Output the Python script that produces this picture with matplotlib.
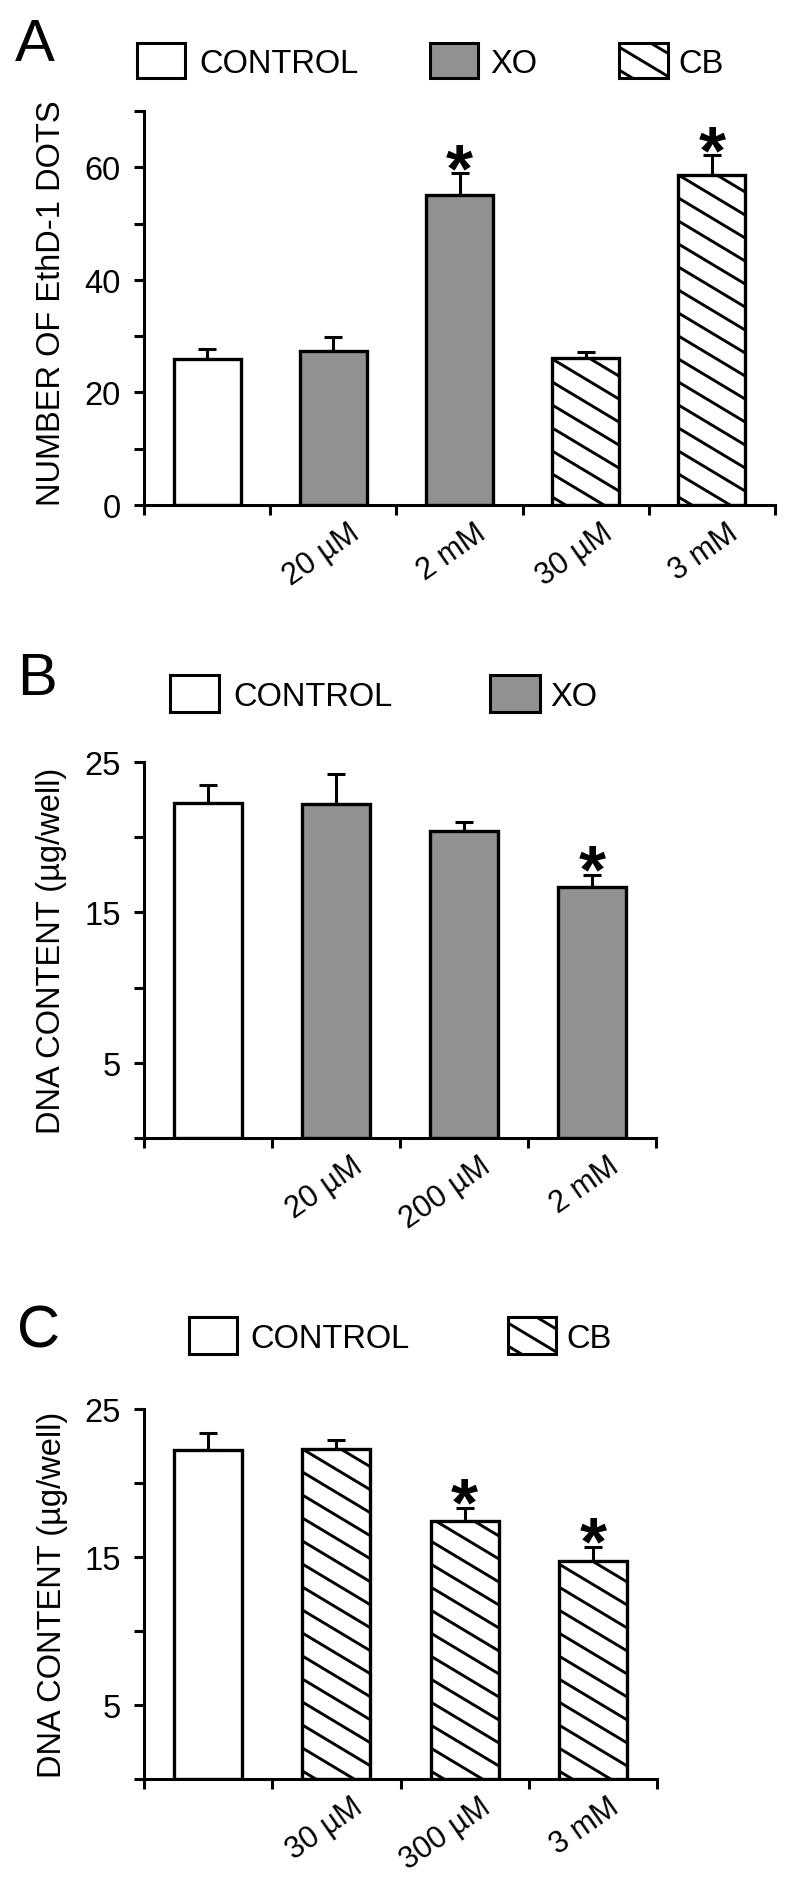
import matplotlib
matplotlib.use("Agg")
import matplotlib.pyplot as plt
import numpy as np
from matplotlib.patches import Rectangle
from matplotlib.lines import Line2D
from matplotlib.transforms import IdentityTransform, ScaledTranslation

plt.rcParams['font.family'] = ['Liberation Sans', 'DejaVu Sans']

W, H = 800, 1883

# panel A: EthD-1 dots
a_labels = ['', '20 µM', '2 mM', '30 µM', '3 mM']
a_groups = ['CONTROL', 'XO', 'XO', 'CB', 'CB']
a_means = [26.0, 27.3, 55.1, 26.2, 58.7]
a_sem = [1.8, 2.5, 3.8, 1.0, 3.4]
a_star = [False, False, True, False, True]
a_yticks = [0, 10, 20, 30, 40, 50, 60, 70]
a_yticklabels = ['0', '', '20', '', '40', '', '60', '']

# panel B: DNA content with XO
b_labels = ['', '20 µM', '200 µM', '2 mM']
b_groups = ['CONTROL', 'XO', 'XO', 'XO']
b_means = [22.3, 22.2, 20.4, 16.7]
b_sem = [1.2, 2.0, 0.6, 0.8]
b_star = [False, False, False, True]

# panel C: DNA content with CB
c_labels = ['', '30 µM', '300 µM', '3 mM']
c_groups = ['CONTROL', 'CB', 'CB', 'CB']
c_means = [22.2, 22.3, 17.4, 14.7]
c_sem = [1.2, 0.6, 0.9, 1.0]
c_star = [False, False, True, True]

dna_yticks = [0, 5, 10, 15, 20, 25]
dna_yticklabels = ['', '5', '', '15', '', '25']

fill = {'CONTROL': 'white', 'XO': '#919191', 'CB': 'white'}
hatched = {'CONTROL': False, 'XO': False, 'CB': True}

FS = 23.5
LW = 2.2

fig = plt.figure(figsize=(W / 100, H / 100), dpi=100)
to_hatch = []


def add_panel(box, means, sem, groups, labels, stars, yticks, yticklabels, ylabel, label_xy):
    left, top, right, bottom = box
    ax = fig.add_axes([left / W, 1 - bottom / H, (right - left) / W, (bottom - top) / H])
    n = len(means)
    x = np.arange(n) + 0.5
    ax.set_xlim(0, n)
    ax.set_ylim(0, yticks[-1])
    bars = ax.bar(x, means, width=0.53, color=[fill[g] for g in groups],
                  edgecolor='black', linewidth=2.4, zorder=3)
    ax.errorbar(x, means, yerr=[np.zeros(n), sem], fmt='none', ecolor='black',
                elinewidth=LW, capsize=6.8, capthick=LW, zorder=2)
    for i in range(n):
        if hatched[groups[i]]:
            to_hatch.append(bars[i])
        if stars[i]:
            ax.annotate('*', xy=(x[i], means[i] + sem[i]), xytext=(0, -12),
                        textcoords='offset points', ha='center', va='baseline',
                        fontsize=50, fontweight='bold', annotation_clip=False)

    for s in ['top', 'right']:
        ax.spines[s].set_visible(False)
    for s in ['left', 'bottom']:
        ax.spines[s].set_linewidth(LW)

    ax.set_yticks(yticks, yticklabels)
    ax.tick_params(axis='y', which='major', length=7.2, width=LW, labelsize=FS, pad=9.5)
    ax.set_xticks(np.arange(n + 1), minor=True)
    ax.tick_params(axis='x', which='minor', length=7.2, width=LW)
    ax.set_xticks(x, labels)
    ax.tick_params(axis='x', which='major', length=0, pad=9, labelsize=22)
    for lab in ax.get_xticklabels():
        lab.set_rotation(35)
        lab.set_ha('right')
        lab.set_transform(lab.get_transform() + ScaledTranslation(0.32, 0, fig.dpi_scale_trans))

    ax.set_ylabel(ylabel, fontsize=FS, va='center')
    ax.yaxis.set_label_coords((label_xy[0] - left) / (right - left),
                              (bottom - label_xy[1]) / (bottom - top))
    return ax


def add_legend(y0, y1, items):
    for x0, x1, name, tx in items:
        r = Rectangle((x0, H - y1), x1 - x0, y1 - y0, transform=IdentityTransform(),
                      facecolor=fill[name], edgecolor='black', linewidth=LW)
        fig.add_artist(r)
        if hatched[name]:
            to_hatch.append(r)
        fig.text(tx / W, 1 - ((y0 + y1) / 2 + 11.7) / H, name, fontsize=FS, va='baseline')


def add_hatch(patch, spacing=23, slope=0.6):
    bb = patch.get_window_extent()
    x0, y0, x1, y1 = bb.x0, bb.y0, bb.x1, bb.y1
    for c in np.arange(y0 + slope * x0 + 8, y1 + slope * x1 + spacing, spacing):
        ln = Line2D([x0, x1], [c - slope * x0, c - slope * x1], transform=IdentityTransform(),
                    color='black', linewidth=2.1, zorder=4)
        ln.set_clip_path(patch)
        fig.add_artist(ln)


add_panel((144, 112, 775, 506), a_means, a_sem, a_groups, a_labels, a_star,
          a_yticks, a_yticklabels, 'NUMBER OF EthD-1 DOTS', (52, 303))
add_panel((144, 763, 656, 1139), b_means, b_sem, b_groups, b_labels, b_star,
          dna_yticks, dna_yticklabels, 'DNA CONTENT (µg/well)', (52, 951))
add_panel((144, 1410, 657, 1780), c_means, c_sem, c_groups, c_labels, c_star,
          dna_yticks, dna_yticklabels, 'DNA CONTENT (µg/well)', (53, 1595))

add_legend(44, 79, [(137, 185, 'CONTROL', 199), (430, 478, 'XO', 490), (619, 668, 'CB', 678)])
add_legend(676, 713, [(170, 219, 'CONTROL', 233), (490, 540, 'XO', 550)])
add_legend(1318, 1355, [(189, 237, 'CONTROL', 250), (508, 556, 'CB', 566)])

fig.text(15 / W, 1 - 61 / H, 'A', fontsize=43, va='baseline')
fig.text(17 / W, 1 - 695 / H, 'B', fontsize=43, va='baseline')
fig.text(17 / W, 1 - 1347 / H, 'C', fontsize=43, va='baseline')

for p in to_hatch:
    add_hatch(p)

fig.savefig('out.png', dpi=100)
